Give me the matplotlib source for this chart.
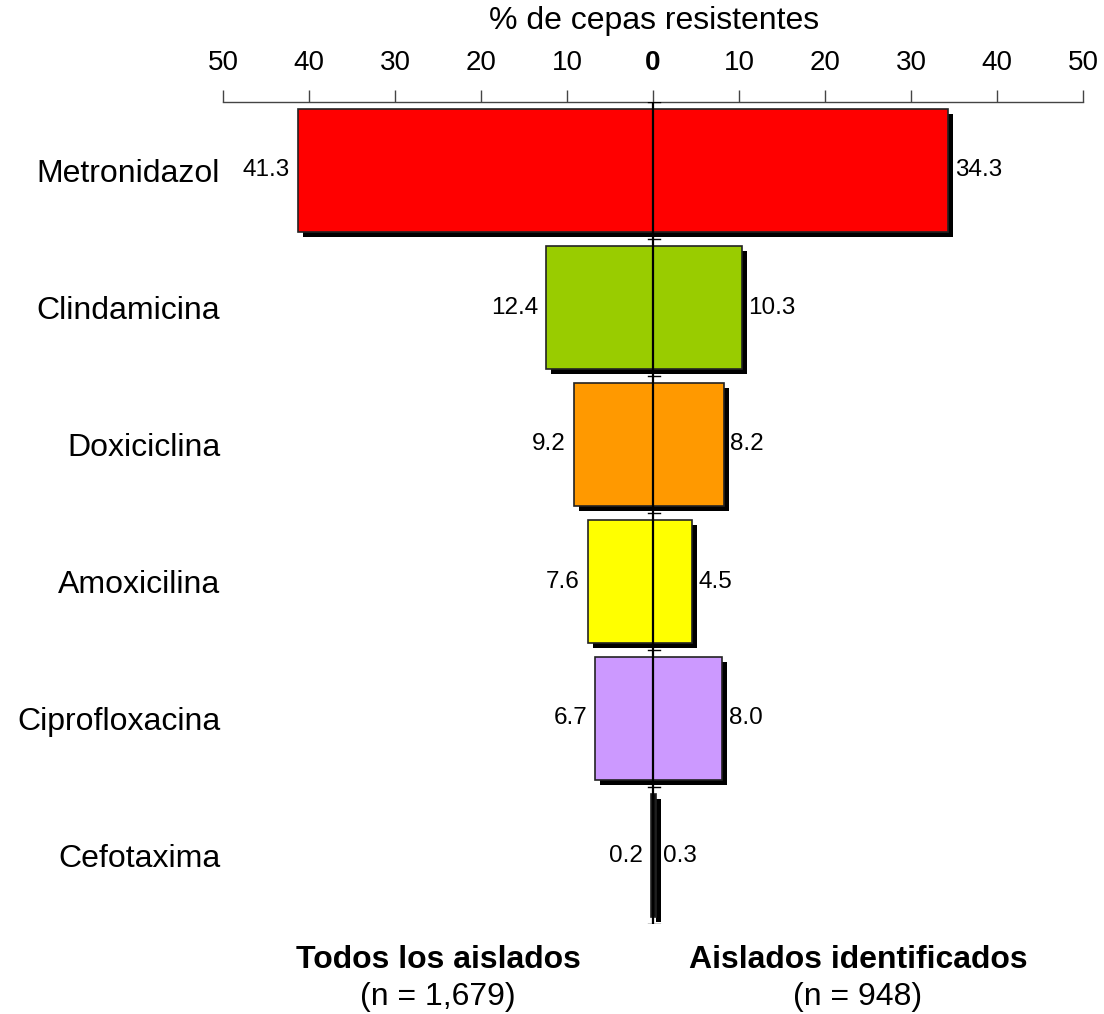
import numpy as np
import matplotlib.pyplot as plt
import matplotlib.patheffects as pe

plt.rcParams['font.family'] = ['Liberation Sans', 'DejaVu Sans']

# Datos: porcentaje de cepas resistentes por antibiótico
categorias = ['Metronidazol', 'Clindamicina', 'Doxiciclina',
              'Amoxicilina', 'Ciprofloxacina', 'Cefotaxima']
todos = [41.3, 12.4, 9.2, 7.6, 6.7, 0.2]            # n = 1,679
identificados = [34.3, 10.3, 8.2, 4.5, 8.0, 0.3]    # n = 948
colores = ['#FF0000', '#99CC00', '#FF9900', '#FFFF00', '#CC99FF', '#111111']
ticks = [-50, -40, -30, -20, -10, 0, 10, 20, 30, 40, 50]

fig = plt.figure(figsize=(11.04, 10.14), dpi=100)
W, H = 1104, 1014
ax = fig.add_axes([223 / W, (H - 924) / H, (1083 - 223) / W, (924 - 102) / H])

y = np.arange(len(categorias))
sombra = [pe.SimplePatchShadow(offset=(3.6, -3.6), shadow_rgbFace='black', alpha=1.0),
          pe.Normal()]
alto = 0.905

for i in range(len(categorias)):
    ax.barh(y[i], -todos[i], height=alto, color=colores[i], edgecolor='#222222',
            linewidth=1.2, path_effects=sombra, zorder=2)
    ax.barh(y[i], identificados[i], height=alto, color=colores[i], edgecolor='#222222',
            linewidth=1.2, path_effects=sombra, zorder=2)
    ax.annotate(f'{todos[i]:.1f}', (-todos[i], y[i]), xytext=(-6, 0),
                textcoords='offset points', ha='right', va='center', fontsize=17.5)
    ax.annotate(f'{identificados[i]:.1f}', (identificados[i], y[i]), xytext=(5, 0),
                textcoords='offset points', ha='left', va='center', fontsize=17.5)

# eje central con marcas entre filas
ax.plot([0, 0], [-0.5, len(categorias) - 0.5], color='black', lw=1.6, zorder=3)
for b in np.arange(len(categorias) + 1) - 0.5:
    ax.plot([-0.6, 0.8], [b, b], color='black', lw=1.0, zorder=3)

ax.set_xlim(-50, 50)
ax.set_ylim(len(categorias) - 0.5, -0.5)

ax.xaxis.tick_top()
ax.set_xticks(ticks)
ax.set_xticklabels([str(abs(t)) for t in ticks], fontsize=20)
ax.tick_params(axis='x', direction='out', length=9, width=1.0, color='#444444', pad=10)
for lab in ax.get_xticklabels():
    if lab.get_text() == '0':
        lab.set_fontweight('bold')

ax.set_yticks(y)
ax.set_yticklabels(categorias, fontsize=23)
ax.tick_params(axis='y', length=0, pad=2)

for s in ['bottom', 'left', 'right']:
    ax.spines[s].set_visible(False)
ax.spines['top'].set_color('#444444')
ax.spines['top'].set_linewidth(1.0)

fig.text(654 / W, 1 - 21 / H, '% de cepas resistentes', ha='center', va='center', fontsize=23)
fig.text(438 / W, 1 - 960 / H, 'Todos los aislados', ha='center', va='center',
         fontsize=23, fontweight='bold')
fig.text(438 / W, 1 - 997 / H, '(n = 1,679)', ha='center', va='center', fontsize=23)
fig.text(858 / W, 1 - 960 / H, 'Aislados identificados', ha='center', va='center',
         fontsize=23, fontweight='bold')
fig.text(858 / W, 1 - 997 / H, '(n = 948)', ha='center', va='center', fontsize=23)

fig.savefig('out.png', dpi=100)
